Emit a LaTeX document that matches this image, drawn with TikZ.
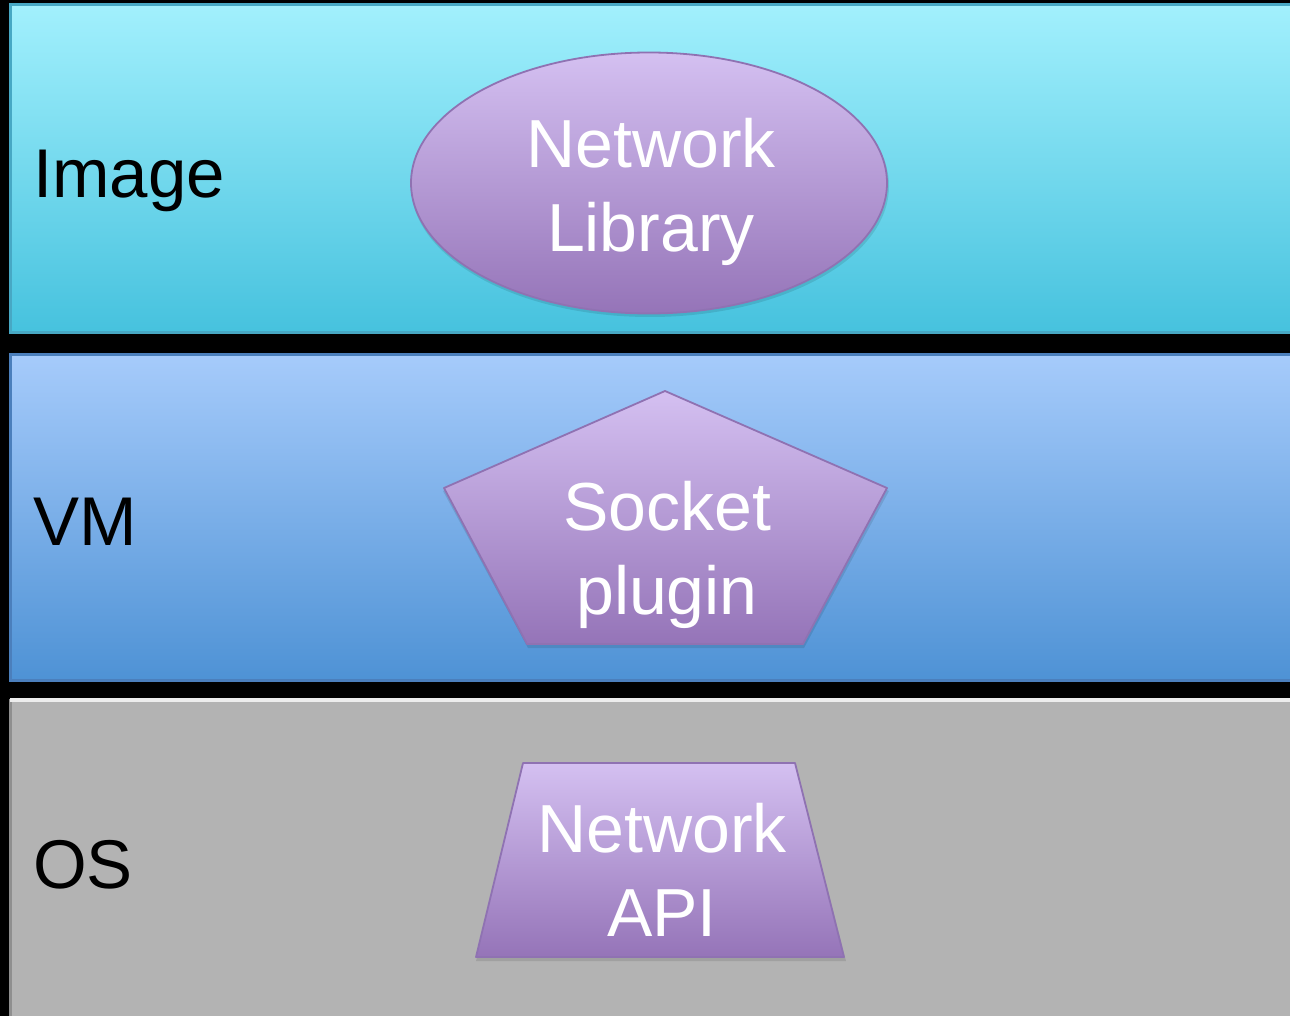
\documentclass[tikz,border=0pt]{standalone}
\usepackage{fontspec}
\setmainfont{Liberation Sans}
\usetikzlibrary{shapes.geometric}
\definecolor{imgtop}{HTML}{A2F0FD}
\definecolor{imgbot}{HTML}{46C2DE}
\definecolor{imgedge}{HTML}{47A8C4}
\definecolor{vmtop}{HTML}{A6CBFB}
\definecolor{vmbot}{HTML}{4E92D5}
\definecolor{vmedge}{HTML}{4B7FBC}
\definecolor{osfill}{HTML}{B3B3B3}
\definecolor{ostop}{HTML}{EDEDED}
\definecolor{osedge}{HTML}{8F8F8F}
\definecolor{shtop}{HTML}{D4C0F1}
\definecolor{shbot}{HTML}{9574B8}
\definecolor{shedge}{HTML}{8F72B2}
\tikzset{
  layer/.style={line width=3pt},
  shapebox/.style={top color=shtop, bottom color=shbot, draw=shedge, line width=1.8pt, line join=round},
  shadowbox/.style={fill=black, opacity=0.10},
  shapetext/.style={text=white, font=\fontsize{68}{84}\selectfont, align=center, inner sep=0pt},
  layerlabel/.style={text=black, font=\fontsize{69}{84}\selectfont, anchor=base west, inner sep=0pt}
}
\begin{document}
\begin{tikzpicture}[x=1pt,y=-1pt]
\useasboundingbox (0,0) rectangle (1290,1016);
\fill[black] (0,0) rectangle (1290,1016);
% layers
\path[layer, top color=imgtop, bottom color=imgbot, draw=imgedge] (10,5) rectangle (1305,332);
\path[layer, top color=vmtop, bottom color=vmbot, draw=vmedge] (10,354) rectangle (1305,680);
\fill[osfill] (10,698) rectangle (1305,1030);
\draw[osedge, line width=3pt] (10,1030) -- (10,699);
\draw[ostop, line width=4pt] (10,700) -- (1305,700);
% labels
\node[layerlabel] (limage) at (33,198) {Image};
\node[layerlabel] (lvm) at (33,545) {VM};
\node[layerlabel] (los) at (33,888) {OS};
% Network Library ellipse
\fill[shadowbox] (650,186) ellipse [x radius=239, y radius=131];
\node[ellipse, shapebox, minimum width=476pt, minimum height=261pt, inner sep=0pt] (lib) at (649,183) {};
\node[shapetext] (libtext) at (651,192) {Network\\Library};
% Socket plugin pentagon
\fill[shadowbox] (666,394) -- (889,491) -- (804,648) -- (528,648) -- (443,491) -- cycle;
\path[shapebox] (665,391) -- (887,488) -- (803,644) -- (527,644) -- (444,488) -- cycle;
\node[shapetext] (sock) at (667,555) {Socket\\plugin};
% Network API trapezoid
\fill[shadowbox] (524,766) -- (796,766) -- (846,961) -- (476,961) -- cycle;
\path[shapebox] (523,763) -- (795,763) -- (844,957) -- (476,957) -- cycle;
\node[shapetext] (api) at (662,870) {Network\\API};
\end{tikzpicture}
\end{document}
